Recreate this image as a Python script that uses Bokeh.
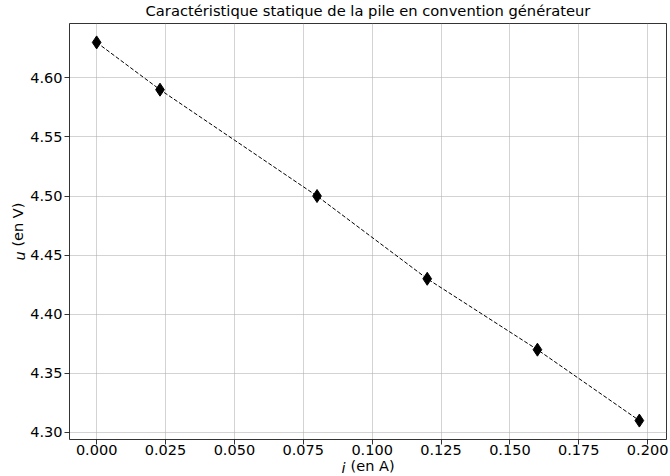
import math
from bokeh.plotting import figure
from bokeh.models import Range1d, FixedTicker, NumeralTickFormatter, Label
from bokeh.embed import file_html
from bokeh.resources import INLINE

# ---- data ----
courant_i = [0.0, 0.023, 0.080, 0.120, 0.160, 0.197]
tension_u = [4.63, 4.59, 4.50, 4.43, 4.37, 4.31]
x_ticks = [0.0, 0.025, 0.05, 0.075, 0.1, 0.125, 0.15, 0.175, 0.2]
y_ticks = [4.30, 4.35, 4.40, 4.45, 4.50, 4.55, 4.60]
title_text = "Caractéristique statique de la pile en convention générateur"
x_unit_label = "(en A)"
y_unit_label = "(en V)"

FONT = "DejaVu Sans"
FS = 14.5
NB = "\u00a0"
W, H = 670, 476
XS1, XS2 = 0, 0      # x axis: tick-label standoff, axis-label standoff
YS1, YS2 = 2, 1      # y axis

dx = max(courant_i) - min(courant_i)
dy = max(tension_u) - min(tension_u)
xr = Range1d(min(courant_i) - 0.05 * dx, max(courant_i) + 0.05 * dx)
yr = Range1d(min(tension_u) - 0.05 * dy, max(tension_u) + 0.05 * dy)

p = figure(width=W, height=H, x_range=xr, y_range=yr,
           output_backend="svg", toolbar_location=None, title=title_text,
           min_border_left=69, min_border_right=3,
           min_border_top=23, min_border_bottom=10)
p.title.align = "center"
p.title.text_font = FONT
p.title.text_font_size = "14.7px"
p.title.text_font_style = "normal"
p.title.text_color = "black"
p.title.standoff = -9
p.title.offset = 0

p.background_fill_color = "white"
p.border_fill_color = "white"
p.outline_line_color = "black"
p.outline_line_width = 0.8

for ax in (p.xaxis, p.yaxis):
    ax.axis_line_color = None
    ax.major_tick_in = 0
    ax.major_tick_out = 5
    ax.major_tick_line_color = "black"
    ax.major_tick_line_width = 0.8
    ax.minor_tick_line_color = None
    ax.major_label_text_font = FONT
    ax.major_label_text_font_size = f"{FS}px"
    ax.major_label_text_color = "black"
    ax.axis_label_text_font = FONT
    ax.axis_label_text_font_size = f"{FS}px"
    ax.axis_label_text_font_style = "normal"
    ax.axis_label_text_color = "black"
p.xaxis.major_label_standoff = XS1
p.xaxis.axis_label_standoff = XS2
p.yaxis.major_label_standoff = YS1
p.yaxis.axis_label_standoff = YS2

p.xaxis.ticker = FixedTicker(ticks=x_ticks)
p.yaxis.ticker = FixedTicker(ticks=y_ticks)
p.xaxis.formatter = NumeralTickFormatter(format="0.000")
p.yaxis.formatter = NumeralTickFormatter(format="0.00")
# leading no-break spaces reserve room for the italic variable letter
p.xaxis.axis_label = NB * 2 + x_unit_label
p.yaxis.axis_label = NB * 3 + y_unit_label

p.grid.grid_line_color = "#b0b0b0"
p.grid.grid_line_alpha = 0.7
p.grid.grid_line_width = 0.8
p.xgrid.ticker = FixedTicker(ticks=x_ticks)
p.ygrid.ticker = FixedTicker(ticks=y_ticks)

p.line(courant_i, tension_u, line_color="black", line_width=1, line_dash="4 2")
p.scatter(courant_i, tension_u, marker="diamond", size=13,
          fill_color="black", line_color="black", line_width=1)

em = FS
xw = (0.636 + 3.031) * em
yw = (0.954 + 3.031) * em
xmid = (xr.start + xr.end) / 2
ymid = (yr.start + yr.end) / 2

p.add_layout(Label(x=xmid, y=yr.start, x_offset=-xw / 2, y_offset=-28,
                   text="i", text_font=FONT, text_font_size=f"{FS}px",
                   text_font_style="italic", text_align="left",
                   text_baseline="alphabetic", text_color="black"), "right")
p.add_layout(Label(x=xr.start, y=ymid, x_offset=-50, y_offset=-yw / 2,
                   text="u", text_font=FONT, text_font_size=f"{FS}px",
                   text_font_style="italic", text_align="left",
                   text_baseline="middle", angle=math.pi / 2,
                   text_color="black"), "above")

open("out.html", "w").write(file_html(p, INLINE))
